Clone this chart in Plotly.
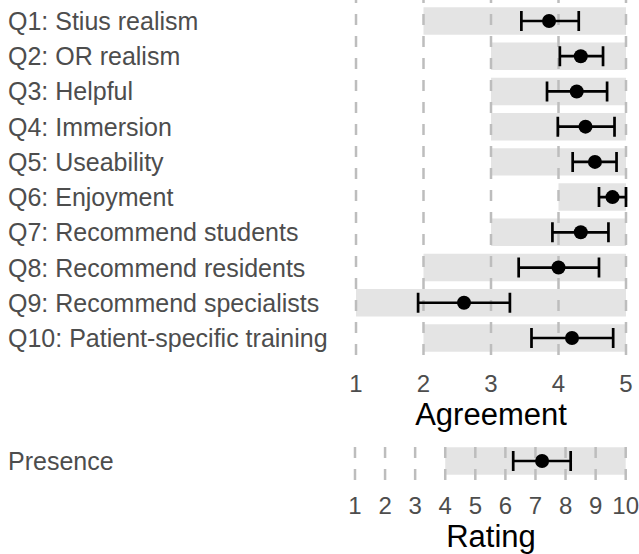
import plotly.graph_objects as go

# ---------------- data ----------------
questions = [
    "Q1: Stius realism",
    "Q2: OR realism",
    "Q3: Helpful",
    "Q4: Immersion",
    "Q5: Useability",
    "Q6: Enjoyment",
    "Q7: Recommend students",
    "Q8: Recommend residents",
    "Q9: Recommend specialists",
    "Q10: Patient-specific training",
]
q_min = [2, 3, 3, 3, 3, 4, 3, 2, 1, 2]
q_max = [5, 5, 5, 5, 5, 5, 5, 5, 5, 5]
q_mean = [3.86, 4.33, 4.27, 4.40, 4.54, 4.80, 4.33, 4.00, 2.60, 4.20]
q_lo = [3.45, 4.02, 3.83, 3.99, 4.21, 4.60, 3.91, 3.41, 1.92, 3.60]
q_hi = [4.30, 4.66, 4.72, 4.83, 4.86, 5.00, 4.74, 4.60, 3.28, 4.81]

presence_label = ["Presence"]
p_min = [4]
p_max = [10]
p_mean = [7.22]
p_lo = [6.26]
p_hi = [8.17]

agree_ticks = [1, 2, 3, 4, 5]
rating_ticks = [1, 2, 3, 4, 5, 6, 7, 8, 9, 10]

# ---------------- style ----------------
FONT = "Liberation Sans, Arial, sans-serif"
TXT = "#4d4d4d"
BAR = "#e4e4e4"
GRID = "#bdbdbd"
W, H = 639, 554
ML, MR = 350, 7

y1_range = [9.483, -0.596]
y2_range = [0.54, -0.596]
x1_range = [0.911, 5.089]
x2_range = [0.834, 10.209]

fig = go.Figure()


def add_panel(labels, mins, maxs, means, los, his, ticks, yrange, xa, ya):
    idx = list(range(len(labels)))
    # range bars
    fig.add_trace(go.Bar(
        y=idx, x=[b - a for a, b in zip(mins, maxs)], base=mins,
        orientation="h", width=0.78, marker=dict(color=BAR, line=dict(width=0)),
        xaxis=xa, yaxis=ya, hoverinfo="skip",
    ))
    # dashed reference lines (drawn above the bars, below the points)
    gx, gy = [], []
    for t in ticks:
        gx += [t, t, None]
        gy += [yrange[0], yrange[1], None]
    fig.add_trace(go.Scatter(
        x=gx, y=gy, mode="lines",
        line=dict(color=GRID, width=2.5, dash="11px,11px"),
        xaxis=xa, yaxis=ya, hoverinfo="skip",
    ))
    # means with intervals
    fig.add_trace(go.Scatter(
        x=means, y=idx, mode="markers",
        marker=dict(color="black", size=14),
        error_x=dict(type="data", symmetric=False,
                     array=[h - m for h, m in zip(his, means)],
                     arrayminus=[m - l for m, l in zip(means, los)],
                     color="black", thickness=2.7, width=10),
        xaxis=xa, yaxis=ya,
    ))
    for i, lab in zip(idx, labels):
        fig.add_annotation(
            text=lab, xref="paper", x=(6 - ML) / (W - ML - MR), xanchor="left",
            yref=ya, y=i, yanchor="middle", showarrow=False,
            font=dict(family=FONT, size=25, color=TXT),
        )


add_panel(questions, q_min, q_max, q_mean, q_lo, q_hi, agree_ticks, y1_range, "x", "y")
add_panel(presence_label, p_min, p_max, p_mean, p_lo, p_hi, rating_ticks, y2_range, "x2", "y2")

axis_common = dict(
    showgrid=False, zeroline=False, showline=False, ticks="",
    tickfont=dict(family=FONT, size=24, color=TXT),
    automargin=False, ticklabeloverflow="allow",
)

fig.update_layout(
    width=W, height=H,
    margin=dict(l=ML, r=MR, t=0, b=0),
    paper_bgcolor="white", plot_bgcolor="white",
    showlegend=False,
    font=dict(family=FONT),
    xaxis=dict(
        domain=[0, 1], anchor="y", range=x1_range,
        tickmode="array", tickvals=agree_ticks, ticktext=[str(t) for t in agree_ticks],
        ticklabelstandoff=12,
        title=dict(text="Agreement", font=dict(family=FONT, size=31, color="black"), standoff=3),
        **axis_common,
    ),
    yaxis=dict(domain=[(H - 355) / H, 1], range=y1_range, visible=False, anchor="x"),
    xaxis2=dict(
        domain=[0, 1], anchor="y2", range=x2_range,
        tickmode="array", tickvals=rating_ticks, ticktext=[str(t) for t in rating_ticks],
        ticklabelstandoff=9,
        title=dict(text="Rating", font=dict(family=FONT, size=31, color="black"), standoff=2),
        **axis_common,
    ),
    yaxis2=dict(domain=[(H - 480) / H, (H - 440) / H], range=y2_range, visible=False, anchor="x2"),
)

# let the figure fill the window exactly (no default page margin), no modebar
fig.write_html(
    "out.html",
    config={"displayModeBar": False},
    post_script="document.body.style.margin='0';document.body.style.overflow='hidden';",
)
